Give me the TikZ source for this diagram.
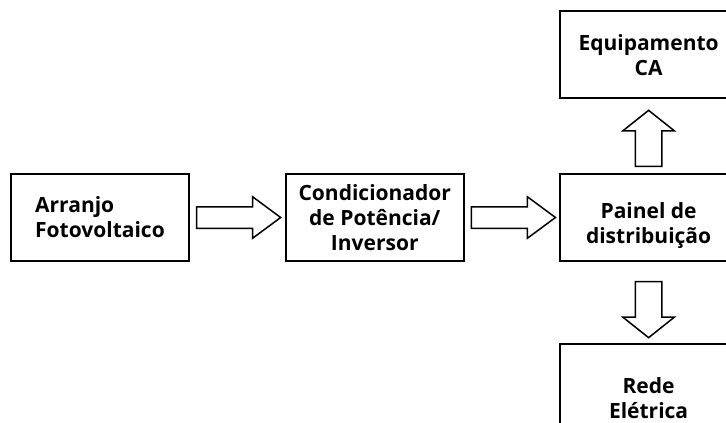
\documentclass[tikz,border=0pt]{standalone}
\usepackage{fontspec}
\setmainfont{Open Sans}
\usetikzlibrary{positioning,shapes.arrows}

\tikzset{
  texto/.style={inner sep=0pt, align=center, font=\bfseries\fontsize{21}{25}\selectfont},
  caixa/.style={texto, draw, line width=1.8pt, minimum width=178pt, minimum height=87pt},
  setah/.style={draw, line width=1.5pt, single arrow, inner sep=10pt,
    single arrow head extend=10pt, single arrow tip angle=73, minimum height=84pt},
  setav/.style={draw, line width=1.5pt, single arrow, inner sep=12.5pt,
    single arrow head extend=12.5pt, single arrow tip angle=103, minimum height=56pt},
}

\begin{document}
\begin{tikzpicture}[x=1pt,y=-1pt]
    \useasboundingbox (0,0) rectangle (726,423);
    \clip (0,0) rectangle (726,423);
    % caixas
    \node[caixa, align=left] (arranjo) at (100,217.5) {Arranjo\\Fotovoltaico};
    \node[caixa, right=95pt of arranjo] (condic) {Condicionador\\de Potência/\\Inversor};
    \node[caixa, right=94pt of condic] (painel) {};
    \node[texto] (painelt) at ([yshift=-8pt]painel.center) {Painel de\\distribuição};
    \node[caixa, above=74pt of painel] (equip) {Equipamento\\CA};
    \node[caixa, below=81pt of painel, minimum height=108pt] (rede) {Rede\\Elétrica};
    % setas
    \node[setah, anchor=tail] (s1) at ([xshift=6pt]arranjo.east) {};
    \node[setah, anchor=tail] (s2) at ([xshift=6pt]condic.east) {};
    \node[setav, shape border rotate=90, anchor=tail] (s3) at ([yshift=6pt]painel.north) {};
    \node[setav, shape border rotate=270, anchor=tail] (s4) at ([yshift=-19pt]painel.south) {};
\end{tikzpicture}
\end{document}
